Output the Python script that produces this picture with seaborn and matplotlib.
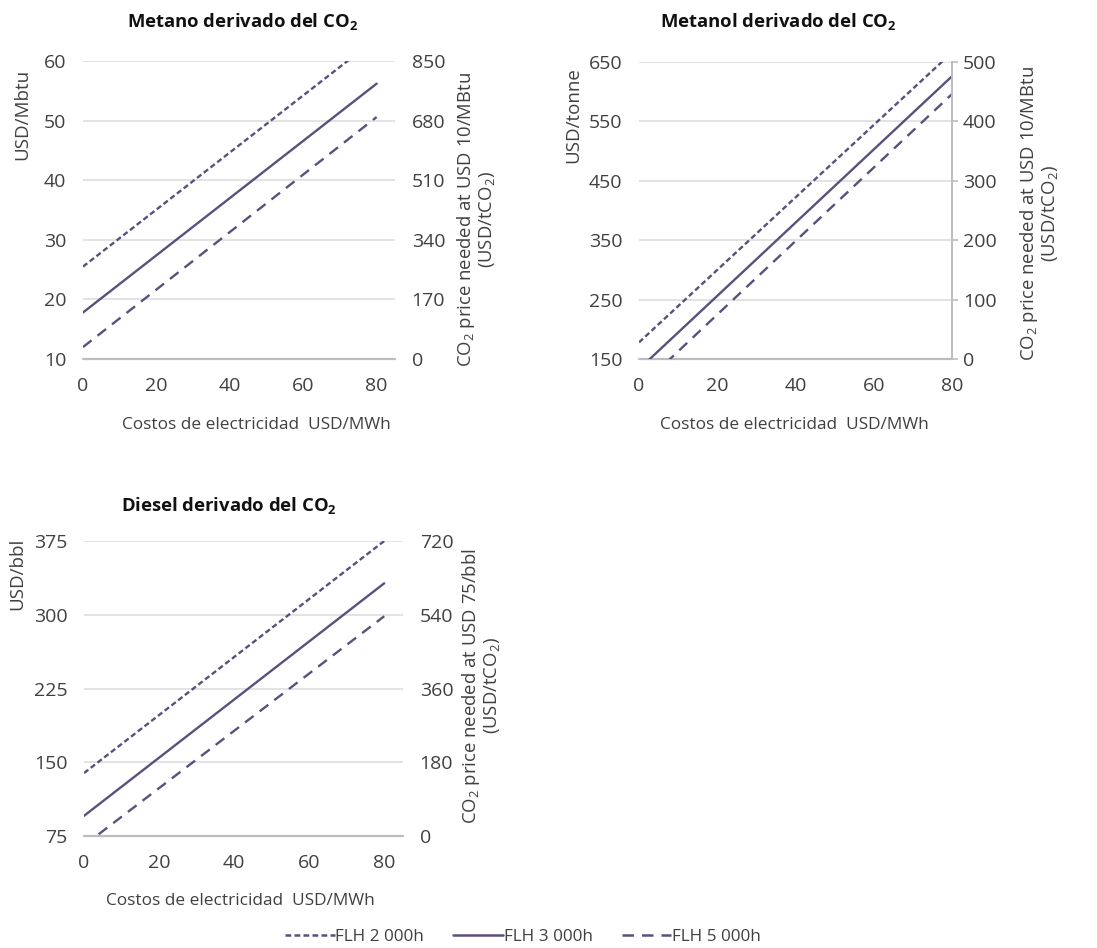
import matplotlib
matplotlib.use("Agg")
import matplotlib.pyplot as plt
import seaborn as sns
import pandas as pd
from matplotlib.lines import Line2D

sns.set_style("white")
plt.rcParams['font.family'] = ['Open Sans', 'DejaVu Sans']
plt.rcParams['mathtext.fontset'] = 'custom'
plt.rcParams['mathtext.rm'] = 'Open Sans'
plt.rcParams['mathtext.bf'] = 'Open Sans:bold'

# ---- data ----
elec_cost = [0, 80]
series_names = ["FLH 2 000h", "FLH 3 000h", "FLH 5 000h"]

metano_2000 = [25.5, 63.8]
metano_3000 = [17.8, 56.2]
metano_5000 = [12.0, 50.6]

metanol_2000 = [178, 666]
metanol_3000 = [133, 626]
metanol_5000 = [101, 596]

diesel_2000 = [139, 375]
diesel_3000 = [95.5, 332]
diesel_5000 = [65.4, 298.5]

metano_left_ticks = [10, 20, 30, 40, 50, 60]
metano_right_ticks = [0, 170, 340, 510, 680, 850]
metanol_left_ticks = [150, 250, 350, 450, 550, 650]
metanol_right_ticks = [0, 100, 200, 300, 400, 500]
diesel_left_ticks = [75, 150, 225, 300, 375]
diesel_right_ticks = [0, 180, 360, 540, 720]
x_ticks = [0, 20, 40, 60, 80]

# ---- style ----
W, H = 1097, 948
LINE = "#5b4f7c"
GRID = "#e3e3e3"
BASE = "#bdbdbd"
TXT = "#404040"
TICK_FS = 14
styles = {
    "FLH 2 000h": (0, (2.3, 1.3)),
    "FLH 3 000h": "-",
    "FLH 5 000h": (0, (4.6, 3.2)),
}

fig = plt.figure(figsize=(W / 100, H / 100), dpi=100)


def px_axes(l, r, t, b):
    return fig.add_axes([l / W, 1 - b / H, (r - l) / W, (b - t) / H])


def draw(ax, ys, xlim, yticks, rticks, ylabel, ylabel_xy, right_spine):
    for name, y in zip(series_names, ys):
        df = pd.DataFrame({"x": elec_cost, "y": y})
        sns.lineplot(data=df, x="x", y="y", ax=ax, color=LINE, lw=1.7,
                     linestyle=styles[name], label=name, legend=False)
    ax.set_xlim(*xlim)
    ax.set_ylim(yticks[0], yticks[-1])
    ax.set_yticks(yticks)
    ax.set_xticks(x_ticks)
    for v in yticks[1:]:
        ax.axhline(v, color=GRID, lw=1.4, zorder=0)
    ax.axhline(yticks[0], color=BASE, lw=1.6, zorder=0, clip_on=False)
    for s in ax.spines.values():
        s.set_visible(False)
    ax.tick_params(axis="both", length=0, labelsize=TICK_FS, colors=TXT)
    ax.tick_params(axis="x", pad=13)
    ax.tick_params(axis="y", pad=12)
    ax.set_xlabel("")
    ax.set_ylabel(ylabel, fontsize=13.5, color=TXT)
    ax.yaxis.label.set_va("center")
    ax.yaxis.set_label_coords(*ylabel_xy)
    ax2 = ax.twinx()
    ax2.set_ylim(rticks[0], rticks[-1])
    ax2.set_yticks(rticks)
    for s in ax2.spines.values():
        s.set_visible(False)
    if right_spine:
        ax2.spines["right"].set_visible(True)
        ax2.spines["right"].set_color(BASE)
        ax2.spines["right"].set_linewidth(1.4)
        ax2.tick_params(axis="y", length=4, width=1.2, color=BASE, pad=4,
                        labelsize=TICK_FS, labelcolor=TXT)
    else:
        ax2.tick_params(axis="y", length=0, pad=12, labelsize=TICK_FS,
                        labelcolor=TXT)
    return ax2


ax1 = px_axes(83, 395, 61, 359)
draw(ax1, [metano_2000, metano_3000, metano_5000], (0, 85),
     metano_left_ticks, metano_right_ticks, "USD/Mbtu", (-0.196, 0.82), False)

ax2 = px_axes(639, 952, 62, 359)
draw(ax2, [metanol_2000, metanol_3000, metanol_5000], (0, 80),
     metanol_left_ticks, metanol_right_ticks, "USD/tonne", (-0.211, 0.82), True)

ax3 = px_axes(84, 403, 541, 836)
draw(ax3, [diesel_2000, diesel_3000, diesel_5000], (0, 85),
     diesel_left_ticks, diesel_right_ticks, "USD/bbl", (-0.21, 0.89), False)


def ftext(x, y, s, **kw):
    fig.text(x / W, 1 - y / H, s, ha="center", va="center", **kw)


title_kw = dict(fontsize=13.3, fontweight="bold", color="#111111")
ftext(242, 22, r"Metano derivado del CO$_{\mathbf{2}}$", **title_kw)
ftext(778, 22, r"Metanol derivado del CO$_{\mathbf{2}}$", **title_kw)
ftext(229, 506, r"Diesel derivado del CO$_{\mathbf{2}}$", **title_kw)

xl_kw = dict(fontsize=12.4, color=TXT)
ftext(256, 425, "Costos de electricidad  USD/MWh", **xl_kw)
ftext(794, 425, "Costos de electricidad  USD/MWh", **xl_kw)
ftext(240, 901, "Costos de electricidad  USD/MWh", **xl_kw)

rl_kw = dict(fontsize=13.3, color=TXT, rotation=90, multialignment="center",
             linespacing=1.05)
ftext(476, 220, "CO$_2$ price needed at USD 10/MBtu\n(USD/tCO$_2$)", **rl_kw)
ftext(1039, 214, "CO$_2$ price needed at USD 10/MBtu\n(USD/tCO$_2$)", **rl_kw)
ftext(481, 686, "CO$_2$ price needed at USD 75/bbl\n(USD/tCO$_2$)", **rl_kw)

handles = [Line2D([0], [0], color=LINE, lw=1.8, linestyle=styles[n])
           for n in series_names]
fig.legend(handles, series_names, loc="center", ncol=3,
           bbox_to_anchor=(523 / W, 1 - 937 / H), frameon=False,
           fontsize=12.3, handlelength=2.9, handletextpad=0.05,
           columnspacing=1.7, labelcolor=TXT)

fig.savefig("out.png", dpi=100)
